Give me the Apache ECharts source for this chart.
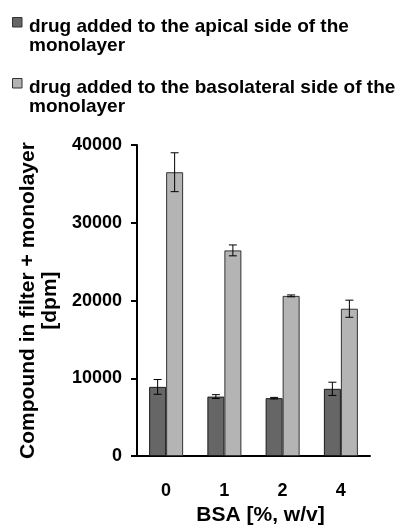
<!DOCTYPE html>
<html>
<head>
<meta charset="utf-8">
<script src="https://cdn.jsdelivr.net/npm/echarts@6/dist/echarts.min.js"></script>
<style>
  html, body { margin: 0; padding: 0; background: #fff; }
  #chart { width: 402px; height: 531px; }
</style>
</head>
<body>
<div id="chart"></div>
<script>
// BSA concentrations on the x axis
const categories = ['0', '1', '2', '4'];
// Apical addition: mean and error (dpm)
const apicalValues = [8900, 7650, 7450, 8650];
const apicalErrors = [950, 250, 100, 850];
// Basolateral addition: mean and error (dpm)
const basolateralValues = [36500, 26450, 20600, 18950];
const basolateralErrors = [2500, 700, 120, 1100];
const yTicks = [0, 10000, 20000, 30000, 40000];

const FONT = '"Liberation Sans", Arial, sans-serif';
const BAR_W = 17;

function errorSeries(values, errors, offset) {
  return {
    type: 'custom',
    z: 10,
    data: values.map((v, i) => [i, v, errors[i]]),
    renderItem: function (params, api) {
      const x = api.coord([api.value(0), 0])[0] + offset;
      const hi = api.coord([api.value(0), api.value(1) + api.value(2)])[1];
      const lo = api.coord([api.value(0), api.value(1) - api.value(2)])[1];
      const cap = 4;
      const st = { stroke: '#000', lineWidth: 1 };
      return {
        type: 'group',
        children: [
          { type: 'line', shape: { x1: x, y1: hi, x2: x, y2: lo }, style: st },
          { type: 'line', shape: { x1: x - cap, y1: hi, x2: x + cap, y2: hi }, style: st },
          { type: 'line', shape: { x1: x - cap, y1: lo, x2: x + cap, y2: lo }, style: st }
        ]
      };
    }
  };
}

function legendItem(y, color, lines) {
  const items = [{
    type: 'rect',
    shape: { x: 12.5, y: y - 9, width: 9.5, height: 9.5 },
    style: { fill: color, stroke: '#333', lineWidth: 1 }
  }];
  lines.forEach((t, k) => items.push({
    type: 'text',
    x: 29, y: y + k * 19.5,
    style: { text: t, font: 'bold 19px ' + FONT, fill: '#000', verticalAlign: 'middle', align: 'left' }
  }));
  return items;
}

const chart = echarts.init(document.getElementById('chart'), null, { renderer: 'canvas' });
chart.setOption({
  animation: false,
  grid: { left: 137, right: 32, top: 145, bottom: 66 },
  xAxis: {
    type: 'category',
    data: categories,
    name: 'BSA [%, w/v]',
    nameLocation: 'middle',
    nameGap: 43,
    nameTextStyle: { fontFamily: FONT, fontWeight: 'bold', fontSize: 21, color: '#000', padding: [0, 0, 0, 14] },
    axisLine: { lineStyle: { color: '#000', width: 2 } },
    axisTick: { length: 7, lineStyle: { color: '#000', width: 2 } },
    axisLabel: { fontFamily: FONT, fontWeight: 'bold', fontSize: 18, color: '#000', margin: 26 }
  },
  yAxis: {
    type: 'value',
    min: yTicks[0],
    max: yTicks[yTicks.length - 1],
    interval: yTicks[1] - yTicks[0],
    name: 'Compound in filter + monolayer\n[dpm]',
    nameLocation: 'middle',
    nameRotate: 90,
    nameGap: 67,
    nameTextStyle: { fontFamily: FONT, fontWeight: 'bold', fontSize: 21, color: '#000', lineHeight: 22 },
    splitLine: { show: false },
    axisLine: { show: true, lineStyle: { color: '#000', width: 2 } },
    axisTick: { show: true, length: 6, lineStyle: { color: '#000', width: 2 } },
    axisLabel: {
      fontFamily: FONT, fontWeight: 'bold', fontSize: 18, color: '#000', margin: 15,
      formatter: v => String(v)
    }
  },
  graphic: [
    ...legendItem(26.5, '#666666', ['drug added to the apical side of the', 'monolayer']),
    ...legendItem(87.5, '#b4b4b4', ['drug added to the basolateral side of the', 'monolayer'])
  ],
  series: [
    {
      name: 'drug added to the apical side of the monolayer',
      type: 'bar',
      data: apicalValues,
      barWidth: BAR_W,
      barGap: '0%',
      itemStyle: { color: '#666666', borderColor: '#1a1a1a', borderWidth: 1 }
    },
    {
      name: 'drug added to the basolateral side of the monolayer',
      type: 'bar',
      data: basolateralValues,
      barWidth: BAR_W,
      barGap: '0%',
      itemStyle: { color: '#b4b4b4', borderColor: '#333', borderWidth: 1 }
    },
    errorSeries(apicalValues, apicalErrors, -BAR_W / 2),
    errorSeries(basolateralValues, basolateralErrors, BAR_W / 2)
  ]
});
</script>
</body>
</html>
